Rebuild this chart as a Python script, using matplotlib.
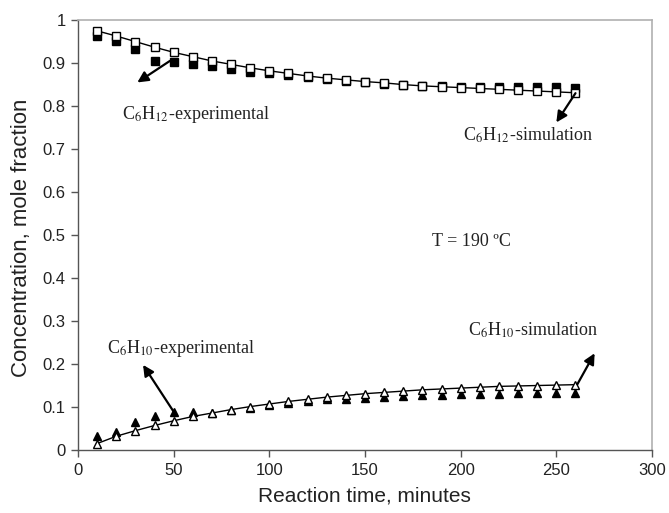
import matplotlib.pyplot as plt

# reaction time, minutes
time = [10, 20, 30, 40, 50, 60, 70, 80, 90, 100, 110, 120, 130,
        140, 150, 160, 170, 180, 190, 200, 210, 220, 230, 240, 250, 260]

# C6H12 (cyclohexane) mole fraction
c6h12_exp = [0.963, 0.951, 0.932, 0.905, 0.903, 0.899, 0.894, 0.887, 0.880, 0.878,
             0.873, 0.868, 0.863, 0.859, 0.855, 0.852, 0.849, 0.847, 0.846, 0.845,
             0.845, 0.845, 0.844, 0.844, 0.844, 0.843]
c6h12_sim = [0.975, 0.963, 0.950, 0.937, 0.925, 0.915, 0.905, 0.897, 0.889, 0.882,
             0.876, 0.870, 0.865, 0.861, 0.857, 0.854, 0.850, 0.847, 0.845, 0.843,
             0.841, 0.839, 0.837, 0.835, 0.833, 0.831]

# C6H10 (cyclohexene) mole fraction
c6h10_exp = [0.033, 0.043, 0.064, 0.079, 0.089, 0.089, 0.087, 0.092, 0.098, 0.104,
             0.110, 0.114, 0.118, 0.118, 0.122, 0.124, 0.126, 0.128, 0.129, 0.130,
             0.131, 0.131, 0.132, 0.132, 0.133, 0.133]
c6h10_sim = [0.015, 0.032, 0.045, 0.057, 0.068, 0.078, 0.086, 0.094, 0.101, 0.107,
             0.113, 0.118, 0.123, 0.127, 0.131, 0.134, 0.137, 0.140, 0.142, 0.144,
             0.146, 0.148, 0.149, 0.150, 0.151, 0.152]

plt.rcParams['mathtext.fontset'] = 'stix'
SERIF = 'Liberation Serif'
SANS = 'Liberation Sans'

fig = plt.figure(figsize=(6.69, 5.13), dpi=100)
ax = fig.add_axes([0.1166, 0.1228, 0.858, 0.838])

ms = 6.0
ax.plot(time, c6h12_exp, 's', color='black', ms=ms, zorder=2)
ax.plot(time, c6h10_exp, '^', color='black', ms=ms + 0.3, zorder=2)
ax.plot(time, c6h12_sim, '-s', color='black', lw=1.0, ms=ms,
        markerfacecolor='white', markeredgewidth=1.0, zorder=3)
ax.plot(time, c6h10_sim, '-^', color='black', lw=1.0, ms=ms + 0.3,
        markerfacecolor='white', markeredgewidth=1.0, zorder=3)

ax.set_xlim(0, 300)
ax.set_ylim(0, 1)
ax.set_xticks(range(0, 301, 50))
ax.set_yticks([i / 10 for i in range(11)])
ax.set_yticklabels(['0', '0.1', '0.2', '0.3', '0.4', '0.5', '0.6', '0.7', '0.8', '0.9', '1'])

for side in ['left', 'bottom']:
    ax.spines[side].set_color('#555555')
    ax.spines[side].set_linewidth(1.0)
for side in ['top', 'right']:
    ax.spines[side].set_color('#b0b0b0')
    ax.spines[side].set_linewidth(1.2)

ax.tick_params(direction='out', length=5, width=1, color='#555555',
               labelsize=12, pad=4)
for lbl in ax.get_xticklabels() + ax.get_yticklabels():
    lbl.set_fontfamily(SANS)
    lbl.set_color('#222222')

ax.set_xlabel('Reaction time, minutes', fontsize=15, family=SANS, color='#222222')
ax.set_ylabel('Concentration, mole fraction', fontsize=16, family=SANS, color='#222222')
ax.xaxis.set_label_coords(0.499, -0.086)
ax.yaxis.set_label_coords(-0.080, 0.493)

arrow = dict(arrowstyle='-|>', color='black', lw=1.6, mutation_scale=16, shrinkA=0, shrinkB=0)
txt = dict(fontsize=13, family=SERIF, color='#222222')

ax.annotate('', xy=(31, 0.855), xytext=(48, 0.905), arrowprops=arrow)
ax.text(23, 0.77, r'C$_6$H$_{12}$-experimental', **txt)

ax.annotate('', xy=(250, 0.762), xytext=(260, 0.830), arrowprops=arrow)
ax.text(201, 0.72, r'C$_6$H$_{12}$-simulation', **txt)

ax.annotate('', xy=(34, 0.198), xytext=(50, 0.089), arrowprops=arrow)
ax.text(15, 0.225, r'C$_6$H$_{10}$-experimental', **txt)

ax.annotate('', xy=(270, 0.225), xytext=(261, 0.153), arrowprops=arrow)
ax.text(204, 0.265, r'C$_6$H$_{10}$-simulation', **txt)

ax.text(185, 0.475, 'T = 190 ºC', **txt)

fig.savefig('out.png', dpi=100)
